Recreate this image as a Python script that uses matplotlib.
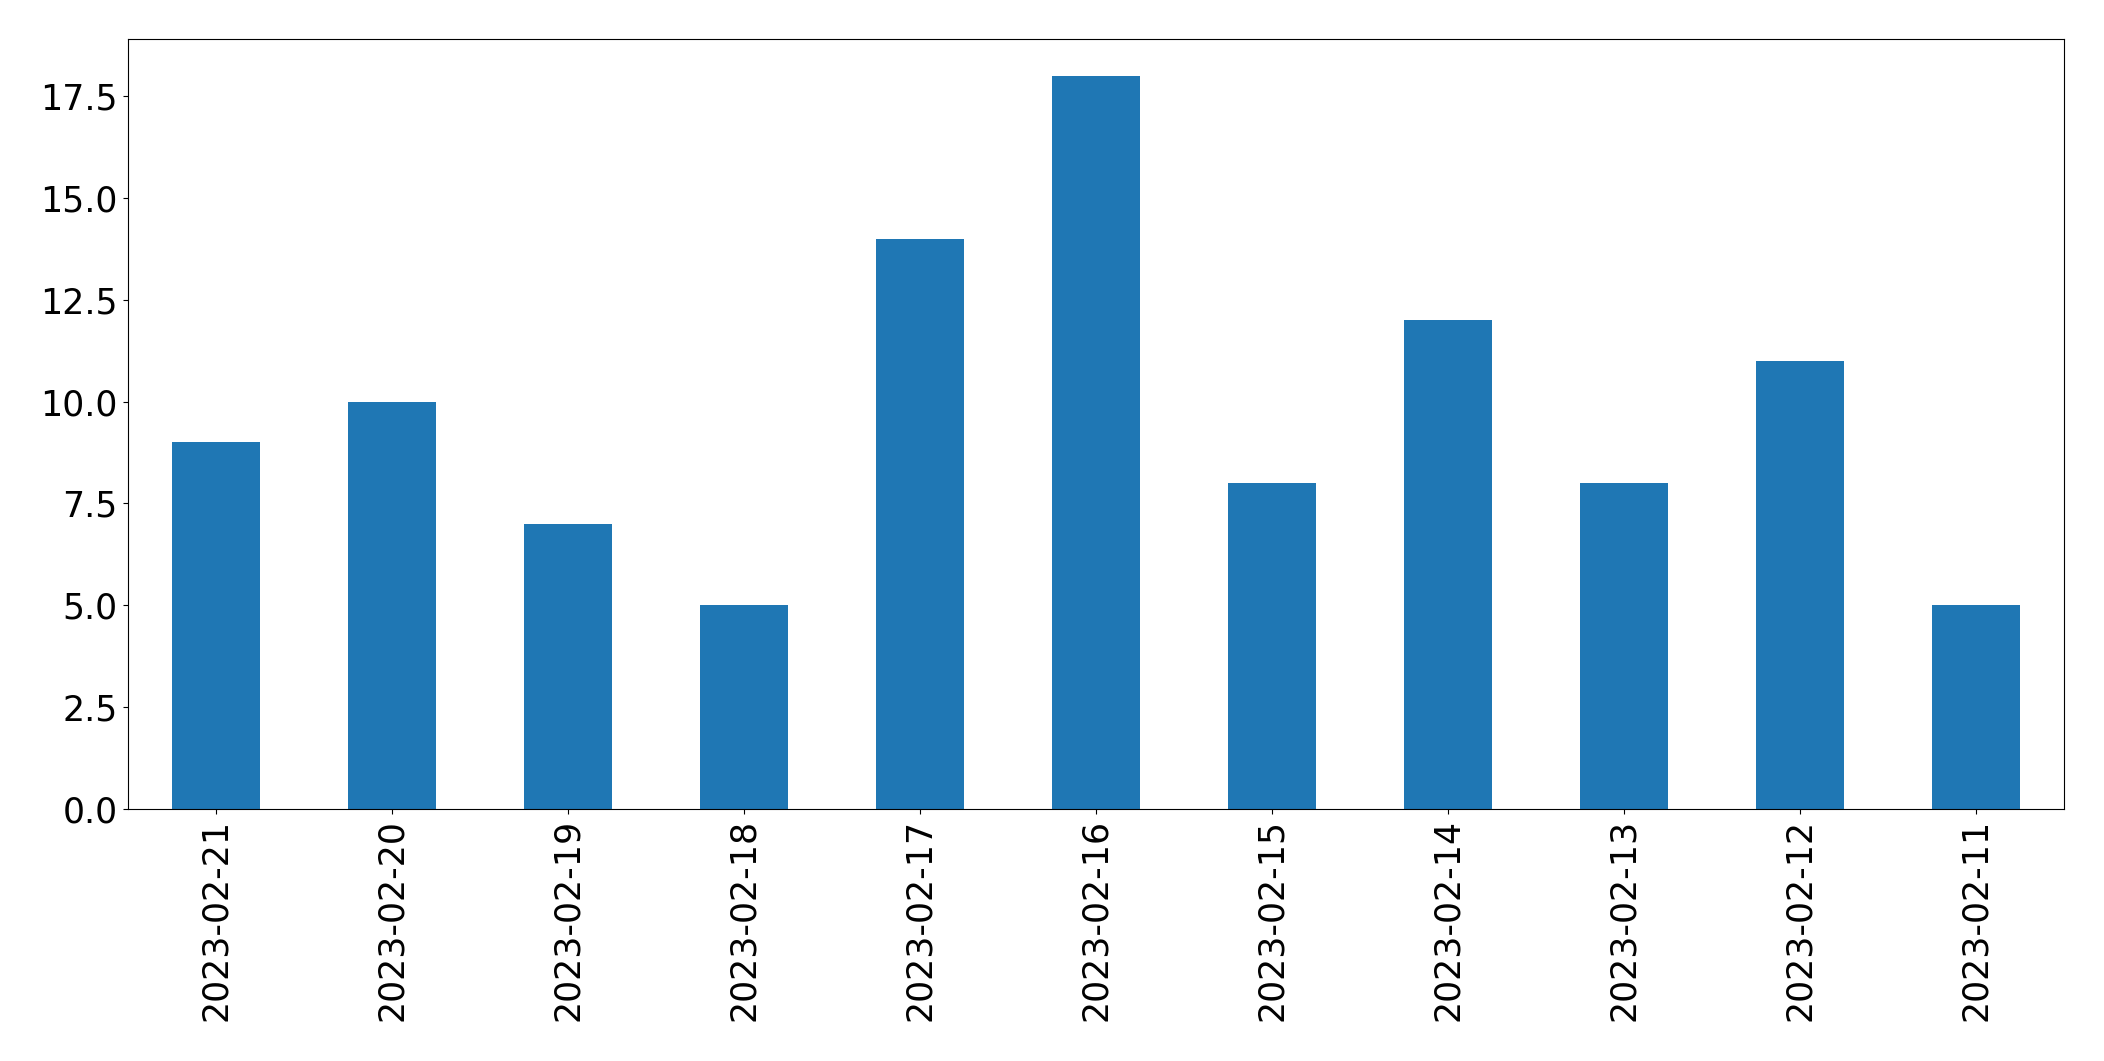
import numpy as np
import matplotlib
matplotlib.use("Agg")
import matplotlib.pyplot as plt

# dates (as shown, newest first) and counts
dates = ['2023-02-21', '2023-02-20', '2023-02-19', '2023-02-18', '2023-02-17',
         '2023-02-16', '2023-02-15', '2023-02-14', '2023-02-13', '2023-02-12',
         '2023-02-11']
counts = [9, 10, 7, 5, 14, 18, 8, 12, 8, 11, 5]

W, H = 2104, 1061
fig = plt.figure(figsize=(W / 100, H / 100), dpi=100)
ax = fig.add_axes([127.5 / W, 1 - 809 / H, (2064 - 127.5) / W, (809 - 39) / H])

x = np.arange(len(dates))
ax.bar(x, counts, width=0.5, color='#1f77b4')
ax.set_xlim(-0.5, len(dates) - 0.5)
ax.set_ylim(0, max(counts) * 1.05)
ax.set_xticks(x)
ax.set_xticklabels(dates, rotation=90)
ax.set_yticks(np.arange(0, 18.1, 2.5))
ax.tick_params(axis='both', labelsize=25)

fig.savefig('out.png', dpi=100)
